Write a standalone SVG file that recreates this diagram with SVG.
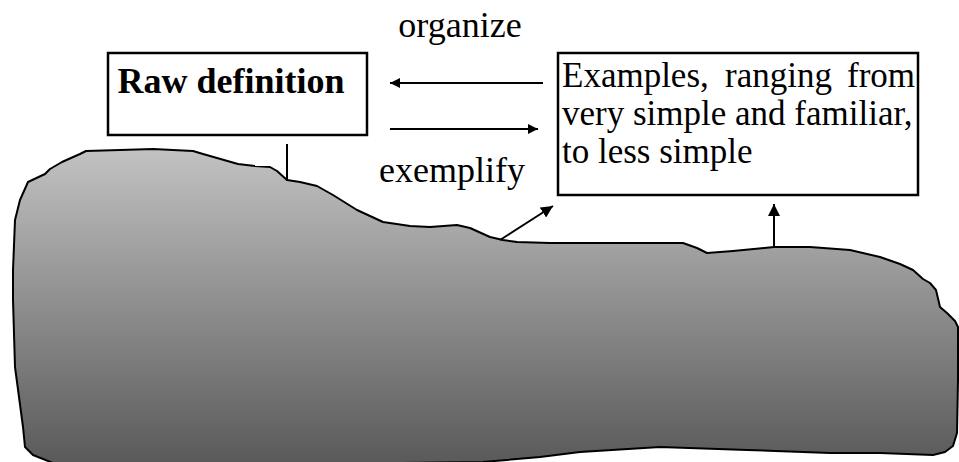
<svg xmlns="http://www.w3.org/2000/svg" width="959" height="462" viewBox="0 0 959 462">
<style>
  .t { font-family: "Liberation Serif", "Times New Roman", serif; fill: #000; }
  .box { fill: #fff; stroke: #000; stroke-width: 2.5; }
  .conn { stroke: #000; stroke-width: 2; fill: none; }
</style>
<defs>
  <linearGradient id="g" gradientUnits="userSpaceOnUse" x1="0" y1="149" x2="0" y2="462">
    <stop offset="0" stop-color="#c2c2c2"/>
    <stop offset="1" stop-color="#5a5a5a"/>
  </linearGradient>
  <marker id="ah" viewBox="0 0 10 10" refX="10" refY="5" markerWidth="10" markerHeight="10" markerUnits="userSpaceOnUse" orient="auto">
    <path d="M0,0 L10,5 L0,10 Z" fill="#000"/>
  </marker>
  <marker id="ahL" viewBox="0 0 12 12" refX="12" refY="6" markerWidth="12" markerHeight="12" markerUnits="userSpaceOnUse" orient="auto">
    <path d="M0,0 L12,6 L0,12 Z" fill="#000"/>
  </marker>
</defs>
<rect width="959" height="462" fill="#fff"/>

<g id="blob">
  <path d="M28,182 L45,174 L50,169 L62,162 L80,154 L86,151 L120,150 L153,149 L193,151 L203,154 L238,164 L255,166 L270,167 L277,171 L287,180 L300,182 L317,186 L333,195 L357,210 L383,222 L410,226 L430,227 L457,225 L470,228 L490,237 L503,240 L517,242 L550,243 L683,243 L697,248 L707,253 L733,251 L774,247 L810,247 L850,250 L880,257 L900,264 L913,270 L923,279 L930,283 L936,290 L940,307 L947,313 L955,321 L958,327 L958,380 L957,433 L953,446 L945,452 L933,455 L880,453 L830,453 L747,450 L660,447 L580,452 L540,457 L483,462 L400,463 L53,463 L33,455 L25,447 L23,427 L15,367 L13,300 L13,270 L15,220 L20,200 Z" fill="url(#g)" stroke="#000" stroke-width="2" stroke-linejoin="round"/>
</g>

<g id="connectors">
  <line class="conn" x1="543" y1="83" x2="390" y2="83" stroke-width="2.5" marker-end="url(#ah)"/>
  <line class="conn" x1="390" y1="129" x2="538" y2="129" stroke-width="1.6" marker-end="url(#ah)"/>
  <line class="conn" x1="287" y1="144" x2="287" y2="181" stroke-width="1.6"/>
  <line class="conn" x1="500" y1="240" x2="553" y2="206" marker-end="url(#ahL)"/>
  <line class="conn" x1="774" y1="247" x2="774" y2="204" marker-end="url(#ahL)"/>
</g>

<g id="label-organize">
  <text class="t" x="460" y="37" font-size="36" text-anchor="middle">organize</text>
</g>
<g id="label-exemplify">
  <text class="t" x="452" y="182" font-size="36" text-anchor="middle">exemplify</text>
</g>

<g id="raw-definition">
  <rect class="box" x="108" y="53" width="259" height="82"/>
  <text class="t" x="231" y="93" font-size="36" font-weight="bold" text-anchor="middle">Raw definition</text>
</g>

<g id="examples">
  <rect class="box" x="558" y="53" width="360" height="142"/>
  <text class="t" font-size="35"><tspan x="562" y="87">Examples,</tspan><tspan x="725" y="87">ranging</tspan><tspan x="847" y="87">from</tspan><tspan x="562" y="125">very simple and familiar,</tspan><tspan x="562" y="163">to less simple</tspan></text>
</g>
</svg>
